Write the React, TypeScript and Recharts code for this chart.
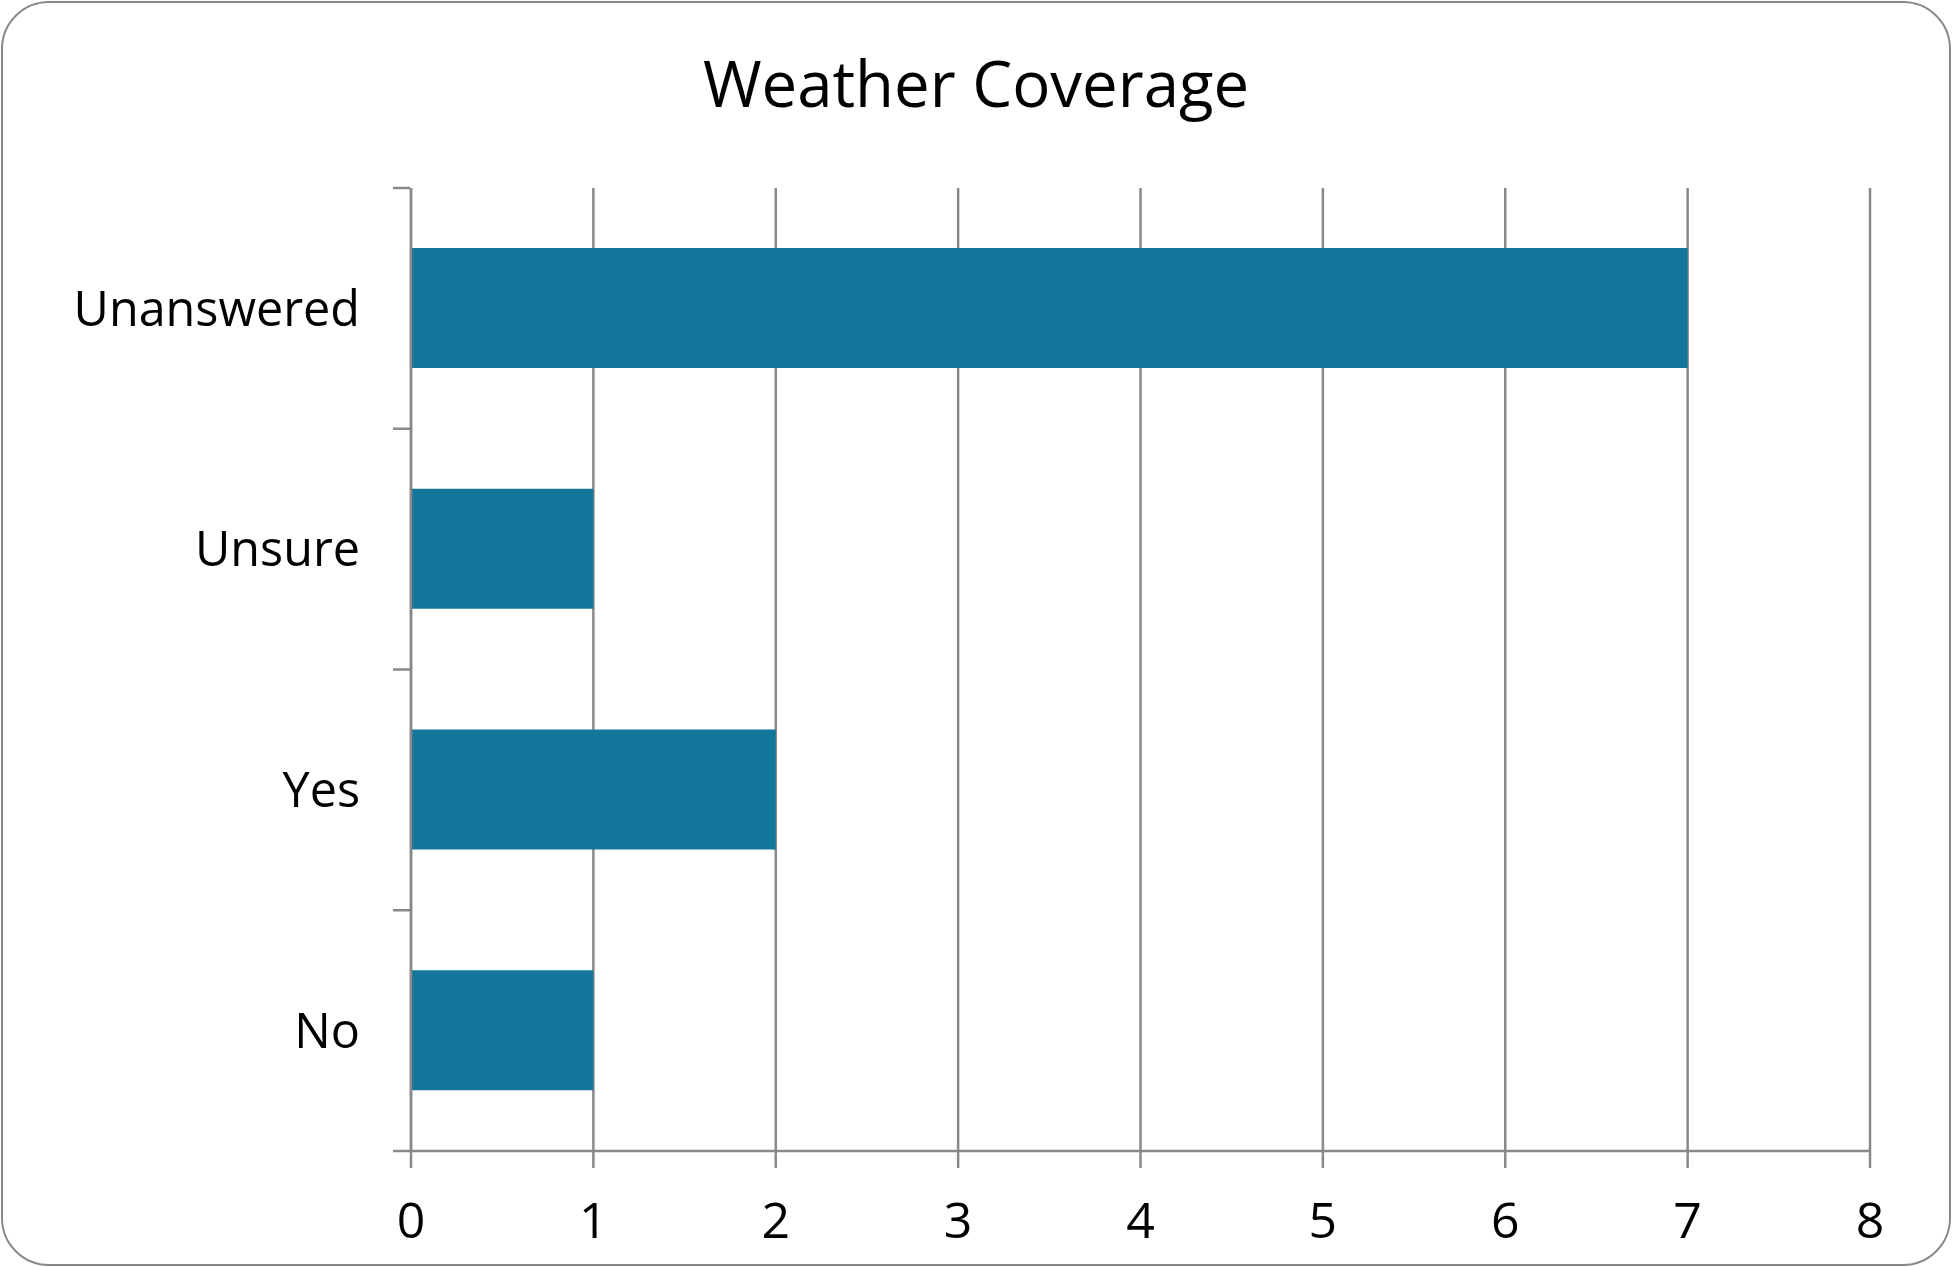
import { BarChart, Bar, XAxis, YAxis, CartesianGrid } from 'recharts';

// answers, top to bottom as in the chart
const categories = ['Unanswered', 'Unsure', 'Yes', 'No'];
const counts = [7, 1, 2, 1];
const xTicks = [0, 1, 2, 3, 4, 5, 6, 7, 8];

const data = categories.map((name, i) => ({ name, value: counts[i] }));

const GRAY = '#898989';
const FONT = '"Open Sans", sans-serif';

// label at the band centre, tick marks on the band edges (Excel style)
const CategoryTick = (props: any) => {
  const { x, y, payload, index, visibleTicksCount, height } = props;
  const band = height / visibleTicksCount;
  const top = payload.coordinate - band / 2;
  const axisX = x + 7;
  return (
    <g>
      <line x1={axisX - 17} x2={axisX} y1={top} y2={top} stroke={GRAY} strokeWidth={2.5} />
      {index === visibleTicksCount - 1 && (
        <line x1={axisX - 17} x2={axisX} y1={top + band} y2={top + band} stroke={GRAY} strokeWidth={2.5} />
      )}
      <text x={axisX - 50} y={y} dy="0.355em" textAnchor="end" fill="#000" fontSize={48.5} fontFamily={FONT}>
        {payload.value}
      </text>
    </g>
  );
};

export default function App() {
  return (
    <div style={{ position: 'absolute', left: 0, top: 0, width: 1952, height: 1267, background: '#fff' }}>
      <BarChart
        width={1952}
        height={1267}
        data={data}
        layout="vertical"
        margin={{ top: 188, right: 82, bottom: 36, left: 0 }}
      >
        <CartesianGrid horizontal={false} stroke={GRAY} strokeWidth={2.5} />
        <XAxis
          type="number"
          domain={[0, 8]}
          ticks={xTicks}
          height={80}
          tickSize={17}
          tickMargin={34}
          stroke={GRAY}
          strokeWidth={2.5}
          tick={{ fill: '#000', fontSize: 50, fontFamily: FONT }}
        />
        <YAxis
          type="category"
          dataKey="name"
          width={411}
          stroke={GRAY}
          strokeWidth={2.5}
          tickLine={false}
          tick={<CategoryTick />}
        />
        <Bar dataKey="value" fill="#13769B" barSize={120} isAnimationActive={false} />
      </BarChart>
      <div
        style={{
          position: 'absolute',
          left: 1,
          top: 1,
          width: 1950,
          height: 1265,
          boxSizing: 'border-box',
          border: `2px solid ${GRAY}`,
          borderRadius: 48,
          pointerEvents: 'none',
        }}
      />
      <div
        style={{
          position: 'absolute',
          left: 0,
          top: 38,
          width: 1952,
          textAlign: 'center',
          fontFamily: FONT,
          fontSize: 63.5,
          lineHeight: '90px',
          color: '#000',
        }}
      >
        Weather Coverage
      </div>
    </div>
  );
}
